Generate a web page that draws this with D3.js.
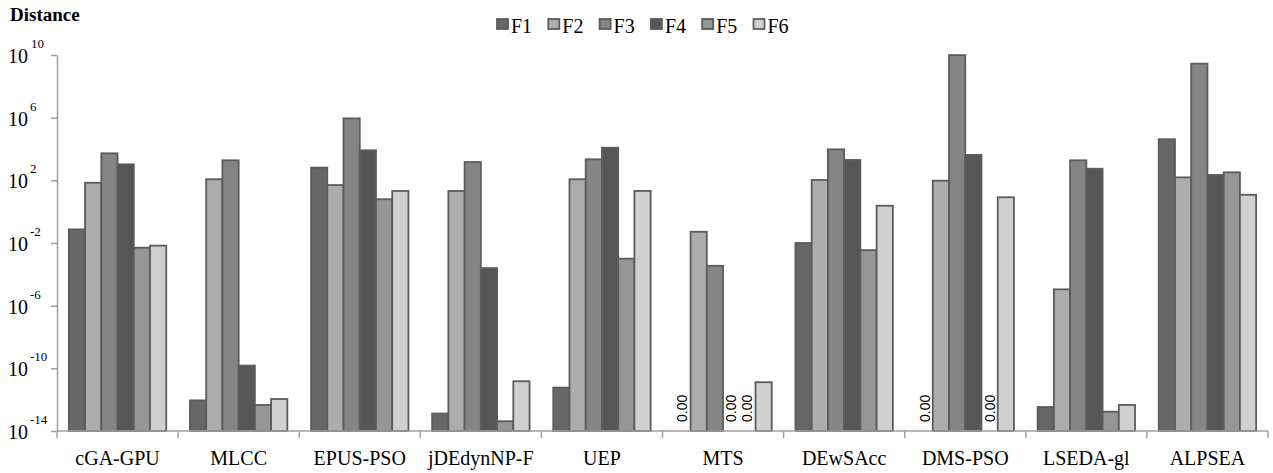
<!DOCTYPE html>
<html>
<head>
<meta charset="utf-8">
<script src="https://cdn.jsdelivr.net/npm/d3@7"></script>
<style>
  body { margin: 0; background: #fff; }
  svg { display: block; }
  text { font-family: "Liberation Serif", "Times New Roman", serif; }
  .axis path, .axis line { stroke: #a0a0a0; stroke-width: 1.5; }
  .bar { stroke: #5c5c5c; stroke-width: 1.8; }
</style>
</head>
<body>
<div id="chart"></div>
<script>
// Data
const categories = ["cGA-GPU", "MLCC", "EPUS-PSO", "jDEdynNP-F", "UEP", "MTS", "DEwSAcc", "DMS-PSO", "LSEDA-gl", "ALPSEA"];
const seriesNames = ["F1", "F2", "F3", "F4", "F5", "F6"];
const f1 = [0.074, 9e-13, 650, 1.3e-13, 5.9e-12, 0, 0.01, 0, 3.4e-13, 42000];
const f2 = [70, 117, 50, 21, 117, 0.052, 105, 95, 1.1e-5, 155];
const f3 = [5300, 1900, 9e5, 1480, 2200, 3.5e-4, 9500, 9.8e9, 1900, 2.8e9];
const f4 = [1050, 1.5e-10, 8300, 2.5e-4, 12000, 0, 2000, 4200, 550, 220];
const f5 = [0.005, 4.6e-13, 6.2, 4.2e-14, 1e-3, 0, 3.5e-3, 0, 1.7e-13, 325];
const f6 = [0.0068, 1.1e-12, 21, 1.5e-11, 21, 1.3e-11, 2.4, 8.3, 4.6e-13, 12];
const seriesValues = [f1, f2, f3, f4, f5, f6];
const yTickExponents = [-14, -10, -6, -2, 2, 6, 10];
const colors = ["#676767", "#adadad", "#858585", "#565656", "#969696", "#d0d0d0"];

// Layout
const svgWidth = 1273, svgHeight = 473;
const plot = { left: 57, right: 1268, top: 55, bottom: 431 };

const svg = d3.select("#chart").append("svg")
  .attr("width", svgWidth)
  .attr("height", svgHeight);

// Scales
const x0 = d3.scaleBand().domain(categories).range([plot.left, plot.right]).padding(0);
const barW = x0.bandwidth() / (seriesNames.length + 1.46);
const gapHalf = (x0.bandwidth() - barW * seriesNames.length) / 2;
const x1 = d3.scaleBand().domain(seriesNames).range([gapHalf, x0.bandwidth() - gapHalf]).padding(0);
const y = d3.scaleLog().domain([1e-14, 1e10]).range([plot.bottom, plot.top]);
const color = d3.scaleOrdinal().domain(seriesNames).range(colors);

// Flatten data
const cells = [];
categories.forEach((c, i) => {
  seriesNames.forEach((s, j) => {
    cells.push({ category: c, series: s, value: seriesValues[j][i] });
  });
});

// Bars
svg.append("g")
  .selectAll("rect")
  .data(cells.filter((d) => d.value > 0))
  .join("rect")
  .attr("class", "bar")
  .attr("x", (d) => x0(d.category) + x1(d.series))
  .attr("width", x1.bandwidth())
  .attr("y", (d) => y(d.value))
  .attr("height", (d) => plot.bottom - y(d.value))
  .attr("fill", (d) => color(d.series));

// Zero labels (rotated, sans)
svg.append("g")
  .selectAll("text")
  .data(cells.filter((d) => d.value === 0))
  .join("text")
  .attr("transform", (d) => `translate(${x0(d.category) + x1(d.series) + x1.bandwidth() / 2 + 5},${plot.bottom - 9}) rotate(-90)`)
  .style("font-family", "'Liberation Sans', Arial, sans-serif")
  .style("font-size", "14px")
  .attr("fill", "#000")
  .text("0.00");

// Y axis
svg.append("g")
  .attr("class", "axis")
  .attr("transform", `translate(${plot.left},0)`)
  .call(d3.axisLeft(y)
    .tickValues(yTickExponents.map((e) => Math.pow(10, e)))
    .tickSize(6)
    .tickSizeOuter(0)
    .tickFormat(""));

const yLabel = svg.append("g")
  .selectAll("text")
  .data(yTickExponents)
  .join("text")
  .attr("y", (e) => y(Math.pow(10, e)) + 8)
  .attr("fill", "#000");
yLabel.append("tspan")
  .attr("x", 8)
  .style("font-size", "20px")
  .text("10");
yLabel.append("tspan")
  .attr("x", (e) => (e === 10 ? 31 : 30))
  .attr("dy", -15)
  .style("font-size", "13px")
  .text((e) => e);

// X axis
const gX = svg.append("g")
  .attr("class", "axis")
  .attr("transform", `translate(0,${plot.bottom})`);
gX.append("path").attr("d", `M${plot.left},0H${plot.right}`).attr("fill", "none");
gX.selectAll("line")
  .data([...categories.map((c) => x0(c)), plot.right])
  .join("line")
  .attr("x1", (d) => d)
  .attr("x2", (d) => d)
  .attr("y1", 0)
  .attr("y2", 7);
svg.append("g")
  .selectAll("text")
  .data(categories)
  .join("text")
  .attr("x", (d) => x0(d) + x0.bandwidth() / 2)
  .attr("y", plot.bottom + 34)
  .attr("text-anchor", "middle")
  .style("font-size", "20px")
  .attr("fill", "#000")
  .text((d) => d);

// Title
svg.append("text")
  .attr("x", 10)
  .attr("y", 21)
  .style("font-size", "19px")
  .style("font-weight", "bold")
  .attr("fill", "#000")
  .text("Distance");

// Legend
const legend = svg.append("g")
  .selectAll("g")
  .data(seriesNames)
  .join("g")
  .attr("transform", (d, i) => `translate(${497 + i * 51.3},19)`);
legend.append("rect")
  .attr("class", "bar")
  .attr("width", 11)
  .attr("height", 10)
  .attr("fill", (d) => color(d));
legend.append("text")
  .attr("x", 14)
  .attr("y", 14)
  .style("font-size", "20px")
  .attr("fill", "#000")
  .text((d) => d);
</script>
</body>
</html>
